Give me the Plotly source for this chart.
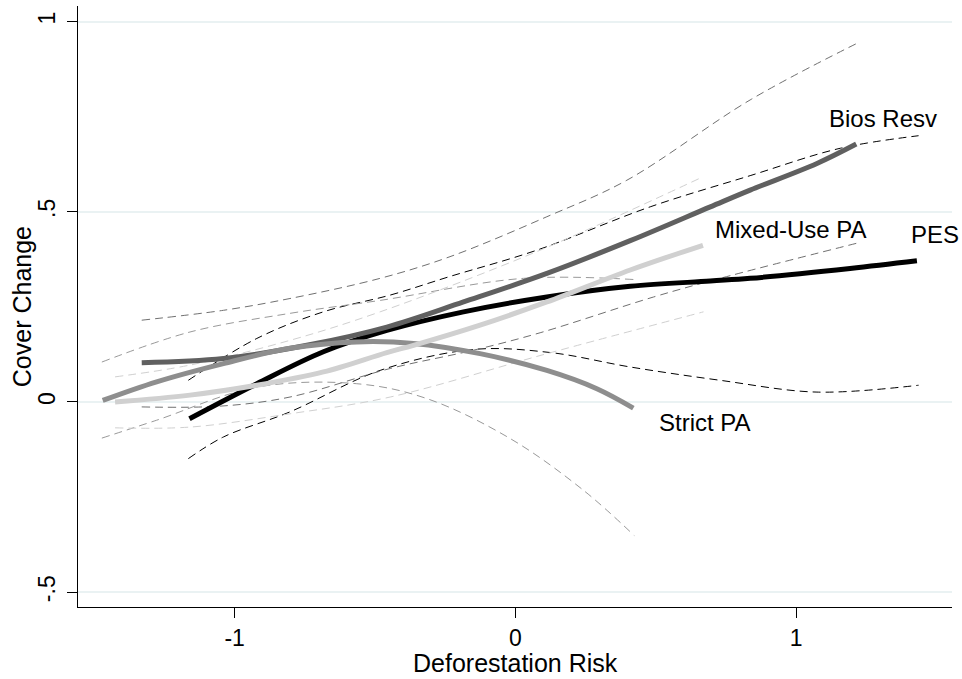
import plotly.graph_objects as go

# ---- data ----
pes_x = [-1.161, -0.921, -0.684, -0.458, -0.185, 0.112, 0.409, 0.694, 0.836, 1.192, 1.430]
pes_y = [-0.044, 0.048, 0.132, 0.188, 0.237, 0.276, 0.304, 0.318, 0.325, 0.351, 0.371]
pes_up_x = [-1.165, -0.921, -0.684, -0.446, -0.233, 0.076, 0.480, 0.836, 1.157, 1.436]
pes_up_y = [0.057, 0.167, 0.237, 0.281, 0.330, 0.399, 0.513, 0.595, 0.667, 0.700]
pes_lo_x = [-1.165, -1.040, -0.803, -0.482, -0.150, 0.124, 0.409, 0.729, 1.074, 1.436]
pes_lo_y = [-0.149, -0.092, -0.026, 0.083, 0.138, 0.130, 0.092, 0.057, 0.026, 0.044]

bios_x = [-1.331, -1.040, -0.743, -0.458, -0.185, 0.112, 0.409, 0.694, 0.836, 1.074, 1.214]
bios_y = [0.103, 0.114, 0.149, 0.197, 0.263, 0.338, 0.424, 0.513, 0.557, 0.627, 0.678]
bios_up_x = [-1.331, -1.040, -0.803, -0.482, -0.233, 0.112, 0.397, 0.836, 1.217]
bios_up_y = [0.215, 0.241, 0.272, 0.325, 0.382, 0.487, 0.583, 0.794, 0.943]
bios_lo_x = [-1.331, -1.052, -0.803, -0.446, -0.150, 0.088, 0.492, 0.729, 1.214]
bios_lo_y = [-0.013, -0.011, 0.013, 0.088, 0.136, 0.182, 0.276, 0.325, 0.417]

strict_x = [-1.470, -1.278, -1.040, -0.803, -0.565, -0.363, -0.126, 0.112, 0.290, 0.420]
strict_y = [0.004, 0.053, 0.101, 0.141, 0.158, 0.154, 0.127, 0.083, 0.035, -0.016]
strict_up_x = [-1.473, -1.159, -0.803, -0.482, 0.029, 0.420]
strict_up_y = [0.105, 0.184, 0.233, 0.267, 0.325, 0.322]
strict_lo_x = [-1.473, -1.278, -0.921, -0.565, -0.316, -0.019, 0.242, 0.423]
strict_lo_y = [-0.095, -0.048, 0.039, 0.048, 0.009, -0.096, -0.232, -0.351]

mixed_x = [-1.426, -1.159, -0.921, -0.684, -0.458, -0.363, -0.126, 0.112, 0.409, 0.668]
mixed_y = [0.000, 0.018, 0.044, 0.079, 0.130, 0.149, 0.202, 0.263, 0.347, 0.412]
mixed_up_x = [-1.426, -1.159, -0.803, -0.482, 0.088, 0.668]
mixed_up_y = [0.066, 0.097, 0.162, 0.237, 0.399, 0.592]
mixed_lo_x = [-1.426, -1.159, -0.803, -0.446, 0.112, 0.670]
mixed_lo_y = [-0.068, -0.066, -0.031, 0.013, 0.127, 0.237]

x_tickvals = [-1, 0, 1]
x_ticktext = ["-1", "0", "1"]
y_tickvals = [-0.5, 0, 0.5, 1]
y_ticktext = ["-.5", "0", ".5", "1"]

labels = ["Bios Resv", "Mixed-Use PA", "PES", "Strict PA"]
label_x = [1.109, 0.705, 1.403, 0.506]
label_y = [0.746, 0.454, 0.439, -0.055]

x_title = "Deforestation Risk"
y_title = "Cover Change"

FONT = "Liberation Sans, Arial, sans-serif"

series = [
    ("PES", pes_x, pes_y, pes_up_x, pes_up_y, pes_lo_x, pes_lo_y, "#000000", "#000000"),
    ("Bios Resv", bios_x, bios_y, bios_up_x, bios_up_y, bios_lo_x, bios_lo_y, "#606060", "#707070"),
    ("Strict PA", strict_x, strict_y, strict_up_x, strict_up_y, strict_lo_x, strict_lo_y, "#8e8e8e", "#999999"),
    ("Mixed-Use PA", mixed_x, mixed_y, mixed_up_x, mixed_up_y, mixed_lo_x, mixed_lo_y, "#d0d0d0", "#d0d0d0"),
]

fig = go.Figure()
# confidence bands (thin dashed)
for name, x, y, ux, uy, lx, ly, col, ccol in series:
    for cx, cy in ((ux, uy), (lx, ly)):
        fig.add_trace(go.Scatter(x=cx, y=cy, mode="lines", showlegend=False,
                                 hoverinfo="skip",
                                 line=dict(color=ccol, width=1, dash="8px,5px", shape="spline", smoothing=1.0)))
# fitted lines (thick)
for name, x, y, ux, uy, lx, ly, col, ccol in series:
    fig.add_trace(go.Scatter(x=x, y=y, mode="lines", name=name, showlegend=False,
                             line=dict(color=col, width=5, shape="spline", smoothing=1.0)))

for t, ax_, ay_ in zip(labels, label_x, label_y):
    fig.add_annotation(x=ax_, y=ay_, text=t, showarrow=False, xanchor="left", yanchor="middle",
                       font=dict(family=FONT, size=24, color="#000000"))

# axis titles
fig.add_annotation(xref="x", yref="paper", x=0, y=-0.0935, text=x_title, showarrow=False,
                   xanchor="center", yanchor="middle", font=dict(family=FONT, size=25, color="#000000"))
fig.add_annotation(xref="paper", yref="paper", x=-0.0644, y=0.5, text=y_title, showarrow=False,
                   textangle=-90, xanchor="center", yanchor="middle",
                   font=dict(family=FONT, size=25, color="#000000"))

fig.update_layout(
    width=962, height=679,
    margin=dict(l=78, r=10, t=6, b=72),
    paper_bgcolor="white", plot_bgcolor="white",
    font=dict(family=FONT, color="#000000"),
    showlegend=False,
    xaxis=dict(range=[-1.558, 1.555], tickvals=x_tickvals, ticktext=x_ticktext,
               ticks="outside", ticklen=10, tickcolor="#000000", tickwidth=1,
               showline=True, linecolor="#000000", linewidth=1,
               showgrid=False, zeroline=False, automargin=False,
               tickfont=dict(size=23, family=FONT)),
    yaxis=dict(range=[-0.539, 1.041], tickvals=y_tickvals, ticktext=y_ticktext,
               ticks="outside", ticklen=10, tickcolor="#000000", tickwidth=1, tickangle=-90,
               ticklabelstandoff=3,
               showline=True, linecolor="#000000", linewidth=1,
               showgrid=True, gridcolor="#eaf2f3", gridwidth=1.5, zeroline=False,
               automargin=False,
               tickfont=dict(size=23, family=FONT)),
)

fig.write_html("out.html", config={"displayModeBar": False},
               post_script="document.body.style.margin='0';document.body.style.overflow='hidden';")
